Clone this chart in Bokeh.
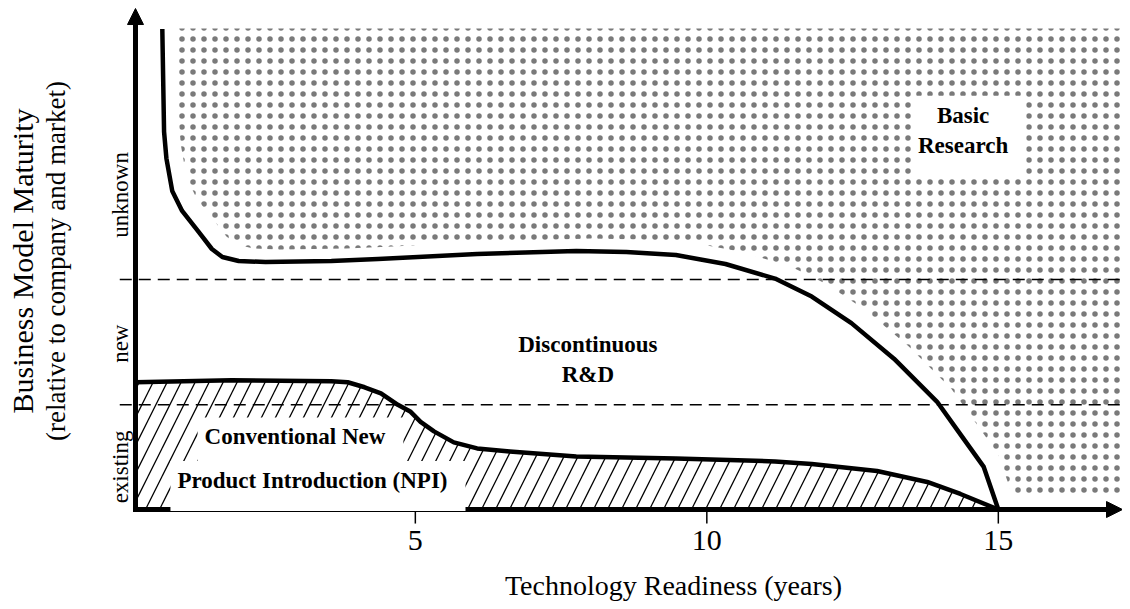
import math
from bokeh.plotting import figure
from bokeh.models import Range1d, Label, Arrow, NormalHead
from bokeh.core.properties import value
from bokeh.embed import file_html
from bokeh.resources import INLINE

FONT = "Liberation Serif"

# ---- data -------------------------------------------------------------
# upper boundary: Basic Research vs. Discontinuous R&D
upper_x = [0.66, 0.69, 0.73, 0.83, 1.00, 1.29, 1.51, 1.69, 1.97, 2.43, 3.56, 4.36,
           6.06, 7.76, 8.62, 9.47, 10.32, 11.17, 11.80, 12.48, 13.21, 13.95, 14.35,
           14.75, 15.0]
upper_y = [95.9, 75.4, 70.1, 63.6, 59.6, 55.3, 52.0, 50.4, 49.6, 49.4, 49.6, 50.0,
           51.0, 51.6, 51.4, 50.8, 49.0, 46.1, 42.5, 37.2, 30.1, 21.5, 15.0,
           8.5, 0.0]

# lower boundary: Conventional NPI vs. Discontinuous R&D
lower_x = [0.2, 1.85, 3.56, 3.84, 4.13, 4.41, 4.70, 4.92, 5.09, 5.32, 5.66, 6.06,
           6.62, 7.76, 9.47, 11.17, 11.80, 12.92, 13.78, 14.35, 15.0]
lower_y = [25.4, 25.8, 25.6, 25.4, 24.4, 23.2, 20.9, 19.5, 17.5, 15.6, 13.4, 12.2,
           11.6, 10.6, 10.2, 9.6, 9.1, 7.7, 5.5, 3.1, 0.0]

band_edges = [20.9, 45.9]
cat_labels = ["existing", "new", "unknown"]
cat_pos = [8.5, 33.1, 62.8]
x_ticks = [5, 10, 15]
x_tick_labels = ["5", "10", "15"]

# ---- layout constants (data units of the plot area) ----------------------
X0, X1 = 0.2, 17.13          # axis origin / arrow tip
Y0, Y1 = 0.0, 100.0
XL = -2.1156                 # left edge of canvas
YT, YB = 101.6, -18.36       # top / bottom edge of canvas
DOT_TOP = 96.0
GAP_X, GAP_Y = 0.25, 2.5     # white gap between the curve and the dotted area
DASH_X0 = -0.07
TICK_END = -2.8
TICK_LABEL_Y = -6.09
CAT_LABEL_X = -0.061

p = figure(width=1122, height=601, x_range=Range1d(XL, X1), y_range=Range1d(YB, YT),
           output_backend="svg", toolbar_location=None,
           x_axis_location=None, y_axis_location=None, min_border=0)
p.outline_line_color = None
p.grid.visible = False
p.background_fill_color = "white"

# dotted region (Basic Research)
dots_x = [x + GAP_X for x in upper_x] + [X1, X1]
dots_y = [min(y + GAP_Y, DOT_TOP) for y in upper_y] + [Y0 + GAP_Y, DOT_TOP]
p.patch(dots_x, dots_y, fill_alpha=0, line_color=None,
        hatch_pattern="dot", hatch_scale=11, hatch_color="#7a7a7a", hatch_weight=0.1)

# hatched region (Conventional NPI)
p.patch(lower_x + [X0], lower_y + [Y0],
        fill_alpha=0, line_color=None,
        hatch_pattern="/", hatch_scale=28, hatch_color="black", hatch_weight=1.3)

# dashed band boundaries
p.segment(x0=[DASH_X0] * len(band_edges), y0=band_edges,
          x1=[X1] * len(band_edges), y1=band_edges,
          line_color="black", line_width=1.5, line_dash="12 7")

# boundary curves
p.line(upper_x, upper_y, line_width=4.5, line_color="black", line_join="round")
p.line(lower_x, lower_y, line_width=4.5, line_color="black", line_join="round")

# x ticks and tick labels
p.segment(x0=x_ticks, y0=[Y0] * len(x_ticks), x1=x_ticks, y1=[TICK_END] * len(x_ticks),
          line_color="black", line_width=1.5)
p.text(x=x_ticks, y=[TICK_LABEL_Y] * len(x_ticks), text=x_tick_labels,
       text_font=value(FONT), text_font_size="30px", text_color="black",
       text_align="center", text_baseline="middle")

# category labels on the y axis
p.text(x=[CAT_LABEL_X] * len(cat_labels), y=cat_pos, text=cat_labels, angle=math.pi / 2,
       text_font=value(FONT), text_font_size="23px", text_color="black",
       text_align="center", text_baseline="middle")

# axes drawn as arrows
p.add_layout(Arrow(end=NormalHead(size=16, fill_color="black", line_color="black"),
                   x_start=X0, y_start=Y0, x_end=X0, y_end=Y1,
                   line_width=5, line_color="black"))
p.add_layout(Arrow(end=NormalHead(size=16, fill_color="black", line_color="black"),
                   x_start=X0, y_start=Y0, x_end=X1, y_end=Y0,
                   line_width=5, line_color="black", line_cap="square"))

def label(x, y, text, size, bold=False, angle=0.0, bg=False):
    kw = dict(x=x, y=y, text=text, angle=angle, text_align="center",
              text_baseline="middle", text_font=FONT, text_font_size=size,
              text_font_style="bold" if bold else "normal", text_color="black")
    if bg:
        kw.update(background_fill_color="white", padding=(7, 18, 7, 18))
    p.add_layout(Label(**kw))

# axis titles
label(-1.745, 49.6, "Business Model Maturity", "30px", angle=math.pi / 2)
label(-1.158, 49.6, "(relative to company and market)", "27px", angle=math.pi / 2)
label(9.428, -15.07, "Technology Readiness (years)", "28px")

# region labels
label(14.49, 74.6, "Basic\nResearch", "23px", bold=True, bg=True)
label(7.96, 29.9, "Discontinuous\nR&D", "23px", bold=True)
label(3.03, 13.4, "Conventional New", "23px", bold=True, bg=True)
label(3.33, 4.7, "Product Introduction (NPI)", "23px", bold=True, bg=True)

open("out.html", "w").write(file_html(p, INLINE))
